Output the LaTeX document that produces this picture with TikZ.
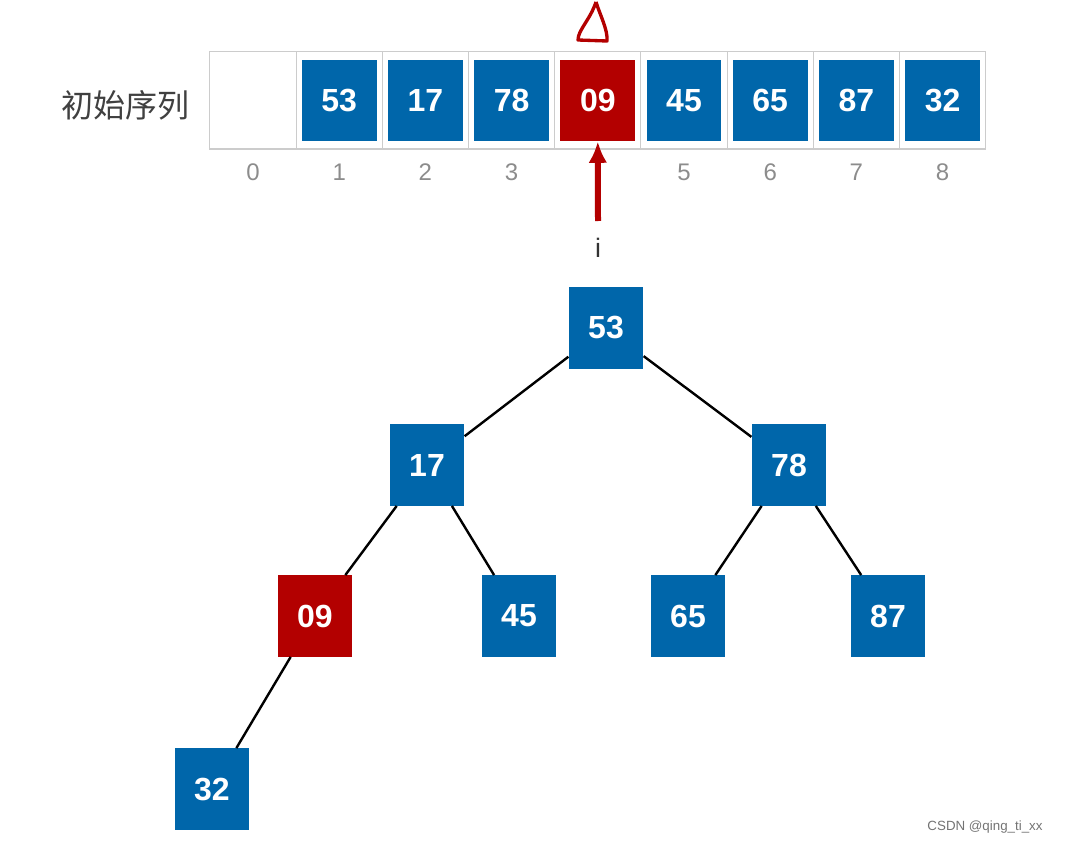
\documentclass[tikz,border=0pt]{standalone}
\usepackage{fontspec}
\usetikzlibrary{arrows.meta}
\setmainfont{Liberation Sans}
\newfontfamily\cjk{Noto Sans CJK SC}
\begin{document}
\begin{tikzpicture}[x=0.75pt,y=-0.75pt,
  cell/.style={draw=black!20,line width=0.8pt,minimum width=64.6pt,minimum height=72.8pt,inner sep=0,outer sep=0},
  blue/.style={fill=blue1,minimum width=56pt,minimum height=61pt,inner sep=0,text=white,font=\fontsize{24}{24}\selectfont\bfseries},
  red/.style={blue,fill=red1},
  idx/.style={text=black!45,font=\fontsize{18}{18}\selectfont},
  edge/.style={line width=1.8pt,black}]
\definecolor{blue1}{HTML}{0066AA}
\definecolor{red1}{HTML}{B30000}
\useasboundingbox (0,0) rectangle (1066,845);
\node[font=\cjk\fontsize{24}{24}\selectfont,text=black!75] (lab) at (125,105) {初始序列};
\foreach \i in {0,...,8} {\node[cell] (c\i) at (253+86.2*\i,100.5) {};}
\foreach \i/\v in {1/53,2/17,3/78,5/45,6/65,7/87,8/32} {\node[blue] (a\i) at (c\i) {\v};}
\node[red] (a4) at (c4) {09};
\foreach \i in {0,1,2,3,5,6,7,8} {\node[idx] (n\i) at (253+86.2*\i,172) {\i};}
\coordinate (ar) at (598,221);
\draw[red1,line width=4.5pt,-{Latex[length=16pt,width=14pt]}] (ar) -- (a4.south);
\node[font=\fontsize{20}{20}\selectfont,text=black!80] (i) at (598,248) {i};
\draw[red1,line width=2.5pt,line join=round] (596,2) .. controls (590,20) and (578,30) .. (578,40) -- (607,41) .. controls (608,30) and (600,15) .. (596,2);
\node[blue] (t53) at (606,328) {53};
\node[blue] (t17) at (427,465) {17};
\node[blue] (t78) at (789,465) {78};
\node[red]  (t09) at (315,616) {09};
\node[blue] (t45) at (519,616) {45};
\node[blue] (t65) at (688,616) {65};
\node[blue] (t87) at (888,616) {87};
\node[blue] (t32) at (212,789) {32};
\draw[edge] (t53) -- (t17);
\draw[edge] (t53) -- (t78);
\draw[edge] (t17) -- (t09);
\draw[edge] (t17) -- (t45);
\draw[edge] (t78) -- (t65);
\draw[edge] (t78) -- (t87);
\draw[edge] (t09) -- (t32);
\node[text=black!55,font=\fontsize{10}{10}\selectfont] (wm) at (985,827) {CSDN @qing\_ti\_xx};
\end{tikzpicture}
\end{document}
